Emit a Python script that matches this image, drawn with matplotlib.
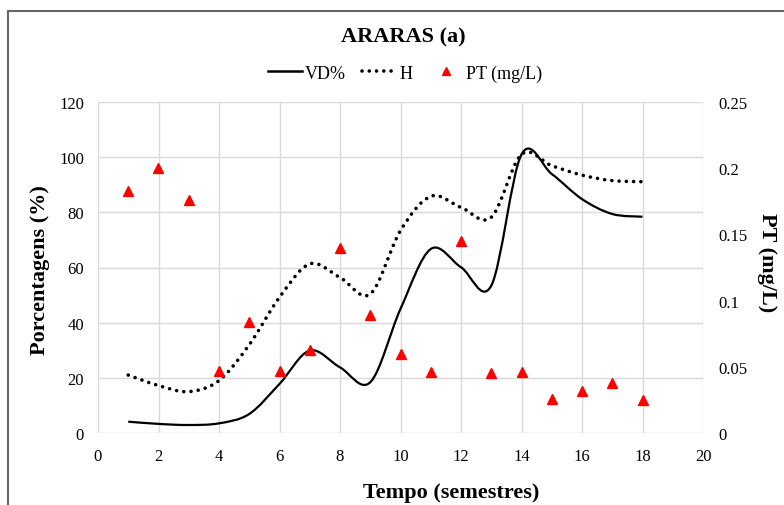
import numpy as np
import matplotlib.pyplot as plt
from matplotlib.path import Path
from matplotlib.patches import PathPatch, Rectangle
from matplotlib.lines import Line2D

plt.rcParams["font.family"] = ["Liberation Serif", "DejaVu Serif"]

# Data
semestres = [1, 2, 3, 4, 5, 6, 7, 8, 9, 10, 11, 12, 13, 14, 15, 16, 17, 18]
vd = [4.1, 3.3, 2.9, 3.5, 6.9, 17.8, 29.9, 23.8, 18.4, 45.0,
      66.7, 60.1, 53.4, 101.0, 93.9, 84.8, 79.4, 78.4]
h = [21.0, 17.2, 15.0, 19.0, 32.0, 49.2, 61.3, 56.4, 50.4, 73.4,
     85.8, 81.8, 78.2, 101.0, 96.9, 93.5, 91.5, 91.1]
pt = [0.183, 0.200, 0.176, 0.047, 0.084, 0.047, 0.063, 0.140, 0.089, 0.060,
      0.046, 0.145, 0.045, 0.046, 0.026, 0.032, 0.038, 0.025]

x_ticks = list(range(0, 21, 2))
left_ticks = list(range(0, 121, 20))
right_ticks = [0, 0.05, 0.1, 0.15, 0.2, 0.25]
right_labels = ["0", "0.05", "0.1", "0.15", "0.2", "0.25"]

DOTS = (0, (0.01, 2.0))


def smooth_path(xs, ys):
    # Excel-style smoothed line: cubic Bezier through every data point
    pts = np.column_stack([xs, ys]).astype(float)
    n = len(pts)
    verts = [pts[0]]
    codes = [Path.MOVETO]
    for i in range(n - 1):
        p0 = pts[i - 1] if i > 0 else pts[i]
        p1 = pts[i]
        p2 = pts[i + 1]
        p3 = pts[i + 2] if i + 2 < n else pts[i + 1]
        c1 = p1 + (p2 - p0) / 6.0
        c2 = p2 - (p3 - p1) / 6.0
        verts += [c1, c2, p2]
        codes += [Path.CURVE4] * 3
    return Path(verts, codes)


fig = plt.figure(figsize=(7.84, 5.06), dpi=100)
ax = fig.add_axes([98 / 784, 1 - 434 / 506, 605 / 784, 331 / 506])

ax.add_patch(PathPatch(smooth_path(semestres, vd), fill=False,
                       edgecolor="black", lw=1.6, zorder=3))
ax.add_patch(PathPatch(smooth_path(semestres, h), fill=False,
                       edgecolor="black", lw=2.6, linestyle=DOTS,
                       capstyle="round", zorder=3))

ax.set_xlim(0, 20)
ax.set_ylim(0, 120)
ax.set_xticks(x_ticks)
ax.set_yticks(left_ticks)
ax.grid(True, color="#d9d9d9", lw=1)
ax.set_axisbelow(True)
for s in ax.spines.values():
    s.set_visible(False)
ax.tick_params(axis="both", length=0, labelsize=12)
ax.tick_params(axis="y", pad=10)
ax.tick_params(axis="x", pad=11)

ax2 = ax.twinx()
ax2.plot(semestres, pt, linestyle="none", marker="^", color="red",
         markersize=7, zorder=4)
ax2.set_ylim(0, 0.25)
ax2.set_yticks(right_ticks)
ax2.set_yticklabels(right_labels)
for s in ax2.spines.values():
    s.set_visible(False)
ax2.tick_params(axis="y", length=0, labelsize=12, pad=11)

fig.text(0.514, 1 - 37 / 506, "ARARAS (a)", ha="center", va="center",
         fontsize=16, fontweight="bold")
fig.text(0.576, 1 - 493 / 506, "Tempo (semestres)", ha="center",
         va="center", fontsize=16, fontweight="bold")
fig.text(40 / 784, 1 - 270 / 506, "Porcentagens (%)", ha="center",
         va="center", rotation=90, fontsize=16, fontweight="bold")
fig.text(767 / 784, 1 - 263 / 506, "PT (mg/L)", ha="center",
         va="center", rotation=270, fontsize=16, fontweight="bold")

handles = [
    Line2D([], [], color="black", lw=1.8),
    Line2D([], [], color="black", lw=2.6, linestyle=DOTS,
           dash_capstyle="round"),
    Line2D([], [], color="red", marker="^", linestyle="none", markersize=6),
]
fig.legend(handles, ["VD%", "H", "PT (mg/L)"], loc="center",
           bbox_to_anchor=(405 / 784, 1 - 74 / 506), ncol=3, frameon=False,
           fontsize=13, handlelength=1.9, handletextpad=0.15,
           columnspacing=0.9)

# chart area border (cut by the image edge on the right and bottom)
fig.patches.append(Rectangle((8 / 784, -0.1), 1.2, 1.1 - 12 / 506,
                             transform=fig.transFigure, fill=False,
                             edgecolor="#666666", lw=1.5))

fig.savefig("out.png", dpi=100)
